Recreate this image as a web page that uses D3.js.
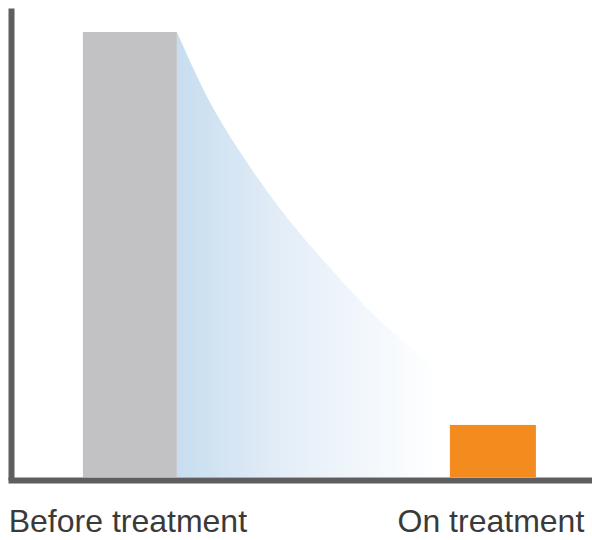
<!DOCTYPE html>
<html>
<head>
<meta charset="utf-8">
<script src="https://cdn.jsdelivr.net/npm/d3@7"></script>
<style>
  html, body { margin: 0; padding: 0; background: #ffffff; }
  svg { display: block; }
</style>
</head>
<body>
<div id="chart"></div>
<script>
// ---- data ----
const categories = ["Before treatment", "On treatment"];
const barValues = [100, 11.7];
// decay curve between the two bars (t: 0 = end of first bar, 100 = start of second bar)
const curveT = [0, 11.1, 25.8, 35.1, 45.4, 60.1, 72, 87, 100];
const curveV = [100, 85.4, 70.6, 62.5, 54.5, 44.3, 36.5, 28.5, 22];

// ---- styles ----
const W = 592, H = 540;
const barColors = ["#c2c2c4", "#f48b1f"];
const barWidths = [94, 86];
const axisColor = "#5e5e61";
const textColor = "#3a3a3a";

const svg = d3.select("#chart").append("svg")
  .attr("width", W).attr("height", H);

const x = d3.scalePoint().domain(categories)
  .range([11, 589]).padding(0.2961).align(0.553);
const y = d3.scaleLinear().domain([0, 105.4]).range([477, 8]);

const leftEdge = i => x(categories[i]) - barWidths[i] / 2;
const rightEdge = i => x(categories[i]) + barWidths[i] / 2;

const t = d3.scaleLinear().domain([0, 100]).range([rightEdge(0), leftEdge(1)]);

// gradient
const defs = svg.append("defs");
const grad = defs.append("linearGradient")
  .attr("id", "fade").attr("gradientUnits", "userSpaceOnUse")
  .attr("x1", t(0)).attr("x2", t(100)).attr("y1", 0).attr("y2", 0);
grad.append("stop").attr("offset", 0).attr("stop-color", "#c7ddef");
grad.append("stop").attr("offset", 0.4).attr("stop-color", "#e4eef8");
grad.append("stop").attr("offset", 0.96).attr("stop-color", "#ffffff");

const curveData = curveT.map((d, i) => ({ t: d, v: curveV[i] }));
const area = d3.area()
  .x(d => t(d.t))
  .y0(y(0))
  .y1(d => y(d.v))
  .curve(d3.curveMonotoneX);

svg.append("path").datum(curveData)
  .attr("d", area)
  .attr("fill", "url(#fade)");

// bars
svg.selectAll("rect.bar").data(barValues).join("rect")
  .attr("class", "bar")
  .attr("x", (d, i) => leftEdge(i))
  .attr("width", (d, i) => barWidths[i])
  .attr("y", d => y(d))
  .attr("height", d => y(0) - y(d))
  .attr("fill", (d, i) => barColors[i]);

// axes
const yAxisScale = d3.scaleLinear().domain(y.domain()).range([477, 11]);
const gy = svg.append("g").attr("transform", "translate(11,0)")
  .call(d3.axisLeft(yAxisScale).ticks(0).tickSize(0).tickFormat(""));
gy.select(".domain").attr("stroke", axisColor).attr("stroke-width", 6)
  .attr("stroke-linecap", "square");

const gx = svg.append("g").attr("transform", "translate(0,480)")
  .call(d3.axisBottom(x).tickSize(0));
gx.select(".domain").attr("stroke", axisColor).attr("stroke-width", 6)
  .attr("stroke-linecap", "square");
gx.selectAll(".tick text")
  .attr("y", 52).attr("dy", 0).attr("dx", -2.5)
  .attr("fill", textColor)
  .style("font-family", "'Liberation Sans', Arial, sans-serif")
  .style("font-size", "32px");
</script>
</body>
</html>
